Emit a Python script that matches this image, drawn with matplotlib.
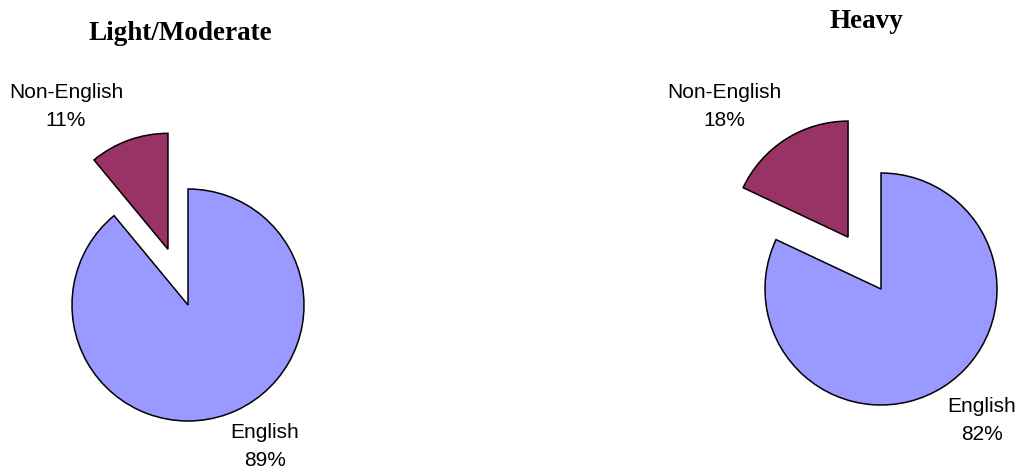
import matplotlib.pyplot as plt

# share of listening by language, per user group
groups = ['Light/Moderate', 'Heavy']
categories = ['English', 'Non-English']
english_pct = [89, 82]
non_english_pct = [11, 18]

colors = ['#9999FF', '#993366']
W, H = 1022, 472

# pie layout in pixel units (y measured from the top)
centers = [(188, 305), (881, 289)]
radius = 116
explode_frac = [0.51, 0.53]
title_pos = [(180, 33), (866, 22)]
label_pos = [
    {'English': (265, 447), 'Non-English': (66, 106)},
    {'English': (982, 420), 'Non-English': (724, 106)},
]

fig = plt.figure(figsize=(W / 100, H / 100), dpi=100)
ax = fig.add_axes([0, 0, 1, 1])

for i, group in enumerate(groups):
    vals = [english_pct[i], non_english_pct[i]]
    cx, cy = centers[i]
    # pie's explode offset is in data units, not radius units
    ax.pie(vals, colors=colors, startangle=90, counterclock=False,
           explode=[0, explode_frac[i] * radius], center=(cx, H - cy),
           radius=radius,
           wedgeprops=dict(edgecolor='black', linewidth=1.1))
    tx, ty = title_pos[i]
    ax.text(tx, H - ty, group, ha='center', va='center', fontsize=19.5,
            fontweight='bold', family='Liberation Serif')
    for cat, v in zip(categories, vals):
        lx, ly = label_pos[i][cat]
        ax.text(lx, H - ly, f'{cat}\n{v}%', ha='center', va='center',
                multialignment='center', fontsize=15, linespacing=1.6,
                family='Liberation Sans')

ax.set_xlim(0, W)
ax.set_ylim(0, H)
ax.set_aspect('equal')
ax.axis('off')

fig.savefig('out.png', dpi=100, facecolor='white')
